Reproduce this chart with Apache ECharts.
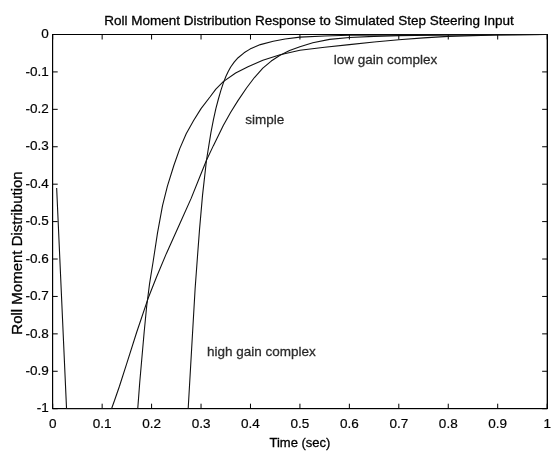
<!DOCTYPE html>
<html>
<head>
<meta charset="utf-8">
<script src="https://cdn.jsdelivr.net/npm/echarts@6/dist/echarts.min.js"></script>
<style>html,body{margin:0;padding:0;background:#fff;}#c{width:554px;height:455px;}</style>
</head>
<body>
<div id="c"></div>
<script>
var titleText = 'Roll Moment Distribution Response to Simulated Step Steering Input';
var xName = 'Time (sec)';
var yName = 'Roll Moment Distribution';
var xTicks = [0, 0.1, 0.2, 0.3, 0.4, 0.5, 0.6, 0.7, 0.8, 0.9, 1];
var yTicks = [-1, -0.9, -0.8, -0.7, -0.6, -0.5, -0.4, -0.3, -0.2, -0.1, 0];

var simpleCurve = [[0.008,-0.41],[0.028,-1],[0.119,-1],[0.125,-0.978],[0.135,-0.94],[0.150,-0.878],[0.170,-0.795],[0.193,-0.705],[0.210,-0.648],[0.230,-0.585],[0.257,-0.506],[0.280,-0.438],[0.300,-0.372],[0.311,-0.336],[0.325,-0.297],[0.345,-0.243],[0.360,-0.208],[0.375,-0.176],[0.392,-0.143],[0.408,-0.115],[0.425,-0.090],[0.442,-0.071],[0.459,-0.056],[0.479,-0.043],[0.500,-0.033],[0.526,-0.022],[0.560,-0.013],[0.600,-0.008],[0.650,-0.005],[0.700,-0.003],[0.8,-0.001],[1,0]];
var lowGain = [[0.172,-1],[0.176,-0.93],[0.180,-0.87],[0.185,-0.795],[0.190,-0.727],[0.196,-0.665],[0.203,-0.608],[0.212,-0.53],[0.222,-0.458],[0.232,-0.405],[0.245,-0.350],[0.257,-0.305],[0.270,-0.265],[0.285,-0.230],[0.300,-0.198],[0.318,-0.167],[0.330,-0.146],[0.345,-0.126],[0.370,-0.103],[0.395,-0.086],[0.425,-0.069],[0.460,-0.054],[0.500,-0.042],[0.550,-0.034],[0.600,-0.027],[0.650,-0.020],[0.700,-0.014],[0.750,-0.009],[0.800,-0.005],[0.850,-0.003],[0.9,-0.001],[1,0]];
var highGain = [[0.274,-1],[0.281,-0.84],[0.288,-0.68],[0.293,-0.59],[0.297,-0.52],[0.303,-0.43],[0.311,-0.336],[0.316,-0.295],[0.320,-0.262],[0.325,-0.228],[0.330,-0.198],[0.335,-0.173],[0.340,-0.150],[0.345,-0.130],[0.350,-0.113],[0.355,-0.099],[0.360,-0.087],[0.367,-0.074],[0.375,-0.062],[0.387,-0.049],[0.399,-0.039],[0.42,-0.027],[0.446,-0.018],[0.47,-0.012],[0.5,-0.007],[0.55,-0.004],[0.6,-0.002],[0.7,-0.001],[1,0]];
var annotations = [[0.673,-0.069,'low gain complex'],[0.429,-0.228,'simple'],[0.422,-0.849,'high gain complex']];

var FONT = 'Liberation Sans';
var TICK = 5;
var chart = echarts.init(document.getElementById('c'), null, {renderer:'canvas'});
function fmt(v){ var r = Math.round(v*10)/10; return String(r); }
function axisLine(){ return {show:true, onZero:false, lineStyle:{color:'#000', width:1}}; }
function curve(name, data){
  return {name:name, type:'line', data:data, showSymbol:false, symbol:'none', smooth:false,
    lineStyle:{color:'#111', width:1.1}, xAxisIndex:0, yAxisIndex:0, silent:true, animation:false};
}
function tickLine(x1,y1,x2,y2){
  return {type:'line', shape:{x1:x1,y1:y1,x2:x2,y2:y2}, style:{stroke:'#000', lineWidth:1}};
}
function xTickRender(params, api){
  var v = api.value(0);
  var b = api.coord([v, -1]);
  var t = api.coord([v, 0]);
  return {type:'group', children:[tickLine(b[0], b[1], b[0], b[1]-TICK), tickLine(t[0], t[1], t[0], t[1]+TICK)]};
}
function yTickRender(params, api){
  var v = api.value(1);
  var l = api.coord([0, v]);
  var r = api.coord([1, v]);
  return {type:'group', children:[tickLine(l[0], l[1], l[0]+TICK, l[1]), tickLine(r[0], r[1], r[0]-TICK, r[1])]};
}
chart.setOption({
  animation:false,
  backgroundColor:'#fff',
  title:{text:titleText, left:304, top:9, textAlign:'center',
    textStyle:{fontFamily:FONT, fontSize:13.5, fontWeight:'normal', color:'#000', textBorderColor:'#000', textBorderWidth:0.3}},
  grid:{left:52.7, right:5, top:34.5, bottom:28, containLabel:false, show:true, borderColor:'#000', borderWidth:1, backgroundColor:'transparent'},
  graphic:[{type:'text', x:18, y:253, rotation:Math.PI/2, silent:true,
    style:{text:yName, fontFamily:FONT, fontSize:15, fill:'#000', stroke:'#000', lineWidth:0.3,
      textAlign:'center', textVerticalAlign:'middle'}}],
  xAxis:[
    {type:'value', min:0, max:1, interval:0.1, position:'bottom',
     name:xName, nameLocation:'middle', nameGap:21,
     nameTextStyle:{fontFamily:FONT, fontSize:13, color:'#000', textBorderColor:'#000', textBorderWidth:0.3},
     axisLine:axisLine(), axisTick:{show:false}, splitLine:{show:false},
     axisLabel:{fontFamily:FONT, fontSize:13.5, color:'#000', margin:9, formatter:fmt, textBorderColor:'#000', textBorderWidth:0.2}},
    {type:'value', min:0, max:1, interval:0.1, position:'top',
     axisLine:axisLine(), axisTick:{show:false}, splitLine:{show:false},
     axisLabel:{show:false}}
  ],
  yAxis:[
    {type:'value', min:-1, max:0, interval:0.1, position:'left',
     axisLine:axisLine(), axisTick:{show:false}, splitLine:{show:false},
     axisLabel:{fontFamily:FONT, fontSize:13.5, color:'#000', margin:4, formatter:fmt, textBorderColor:'#000', textBorderWidth:0.2}},
    {type:'value', min:-1, max:0, interval:0.1, position:'right',
     axisLine:axisLine(), axisTick:{show:false}, splitLine:{show:false},
     axisLabel:{show:false}}
  ],
  series:[
    {type:'custom', name:'xticks', renderItem:xTickRender, data:xTicks.map(function(v){return [v, -1];}),
     xAxisIndex:0, yAxisIndex:0, silent:true, clip:false},
    {type:'custom', name:'yticks', renderItem:yTickRender, data:yTicks.map(function(v){return [0, v];}),
     xAxisIndex:0, yAxisIndex:0, silent:true, clip:false},
    curve('simple', simpleCurve),
    curve('low gain complex', lowGain),
    curve('high gain complex', highGain),
    {type:'scatter', data:annotations, symbolSize:0, silent:true, xAxisIndex:0, yAxisIndex:0,
     label:{show:true, position:'inside', formatter:function(p){return p.data[2];},
       fontFamily:FONT, fontSize:13.5, color:'#000', textBorderColor:'#000', textBorderWidth:0.3}}
  ]
});
</script>
</body>
</html>
